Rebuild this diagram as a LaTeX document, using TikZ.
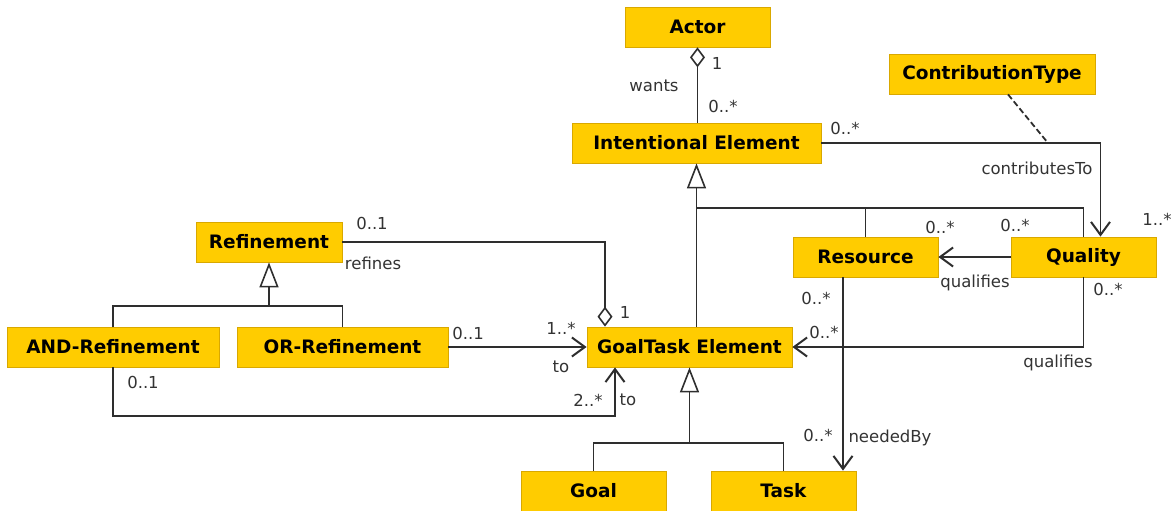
\documentclass[tikz,border=0pt]{standalone}
\usepackage{fontspec}
\setmainfont{DejaVu Sans}
\usetikzlibrary{arrows.meta,calc}
\definecolor{boxfill}{HTML}{FFCC00}
\definecolor{boxline}{HTML}{D9A800}
\definecolor{ln}{HTML}{2E2E2E}
\definecolor{lbltext}{HTML}{333333}
\begin{document}
\begin{tikzpicture}[x=1pt,y=-1pt,
  cls/.style={draw=boxline, fill=boxfill, line width=0.8pt, minimum width=#1,
    minimum height=40pt, inner sep=0pt, text=black,
    font=\fontsize{18.5}{22}\selectfont\bfseries},
  lbl/.style={font=\fontsize{16.5}{20}\selectfont, text=lbltext, inner sep=0pt},
  edge/.style={draw=ln, line width=1.4pt},
  va/.style={-{Straight Barb[length=13pt,width=19pt,line width=2pt]}},
  agg/.style={{Diamond[open,length=20pt,width=15pt,line width=1.6pt]}-},
  gen/.style={{Triangle[open,length=25pt,width=19pt,line width=1.6pt]}-}]
\useasboundingbox (0,0) rectangle (1176,511);

% classes
\node[cls=145] (Actor) at (697.5,27) {Actor};
\node[cls=249] (IE) at (696.5,143) {Intentional Element};
\node[cls=206] (CT) at (992,74) {ContributionType};
\node[cls=146] (Ref) at (269,242) {Refinement};
\node[cls=212] (AND) at (113,347) {AND-Refinement};
\node[cls=211] (OR) at (342.5,347) {OR-Refinement};
\node[cls=205] (GT) at (689.5,347) {GoalTask Element};
\node[cls=145] (Res) at (865.5,257) {Resource};
\node[cls=145] (Qual) at (1083.5,257) {Quality};
\node[cls=145] (Goal) at (593.5,491) {Goal};
\node[cls=145] (Task) at (783.5,491) {Task};

% Actor wants IE
\draw[edge,agg] (Actor.south) -- (Actor.south |- IE.north);

% IE generalization
\draw[edge,gen] (IE.south) -- (IE.south |- GT.north);
\coordinate (j1) at (696.5,208);
\draw[edge] (j1) -| (Qual.north);
\draw[edge] (j1 -| Res.north) -- (Res.north);

% contributesTo
\coordinate (qc) at ($(Qual.north)+(17,0)$);
\draw[edge,va] (IE.east) -| (qc);
\coordinate (ctj) at (1048,143);
\draw[edge,line width=1.8pt,dash pattern=on 6pt off 3pt] ($(CT.south)+(16,0)$) -- (ctj);

% Quality qualifies Resource
\draw[edge,va] (Qual.west) -- (Res.east);
% Quality qualifies GoalTask
\draw[edge,va] (Qual.south) -- (Qual.south |- GT.east) -- (GT.east);
% Resource neededBy Task
\coordinate (rt) at ($(Res.south)+(-22.5,0)$);
\draw[edge,va] (rt) -- (rt |- Task.north);

% Refinement refines GoalTask
\coordinate (gd) at ($(GT.north)+(-84.5,0)$);
\draw[edge,agg] (gd) |- (Ref.east);

% Refinement generalization
\coordinate (j2) at (269,306);
\draw[edge,gen] (Ref.south) -- (j2);
\draw[edge] (AND.north) -- (AND.north |- j2) -- (OR.north |- j2) -- (OR.north);

% OR to GoalTask
\draw[edge,va] (OR.east) -- (GT.west);
% AND to GoalTask
\coordinate (ga) at ($(GT.south)+(-74.5,0)$);
\coordinate (j3) at (113,416);
\draw[edge,va] (AND.south) -- (j3) -| (ga);

% GoalTask generalization
\coordinate (j4) at (689.5,443);
\draw[edge,gen] (GT.south) -- (j4);
\draw[edge] (Goal.north) -- (Goal.north |- j4) -- (Task.north |- j4) -- (Task.north);

% labels
\node[lbl] (l1) at (717,63) {1};
\node[lbl] (l2) at (654,86) {wants};
\node[lbl] (l3) at (723,106) {0..*};
\node[lbl] (l4) at (845,128) {0..*};
\node[lbl] (l5) at (1037,168) {contributesTo};
\node[lbl] (l6) at (1157,219) {1..*};
\node[lbl] (l7) at (940,227) {0..*};
\node[lbl] (l8) at (1015,225) {0..*};
\node[lbl] (l9) at (975,283) {qualifies};
\node[lbl] (l10) at (1108,289) {0..*};
\node[lbl] (l11) at (824,332) {0..*};
\node[lbl] (l12) at (1058,363) {qualifies};
\node[lbl] (l13) at (816,298) {0..*};
\node[lbl] (l14) at (818,435) {0..*};
\node[lbl] (l15) at (890,438) {neededBy};
\node[lbl] (l16) at (372,223) {0..1};
\node[lbl] (l17) at (373,263) {refines};
\node[lbl] (l18) at (625,312) {1};
\node[lbl] (l19) at (468,333) {0..1};
\node[lbl] (l20) at (561,328) {1..*};
\node[lbl] (l21) at (561,367) {to};
\node[lbl] (l22) at (143,382) {0..1};
\node[lbl] (l23) at (588,400) {2..*};
\node[lbl] (l24) at (628,400) {to};
\end{tikzpicture}
\end{document}
